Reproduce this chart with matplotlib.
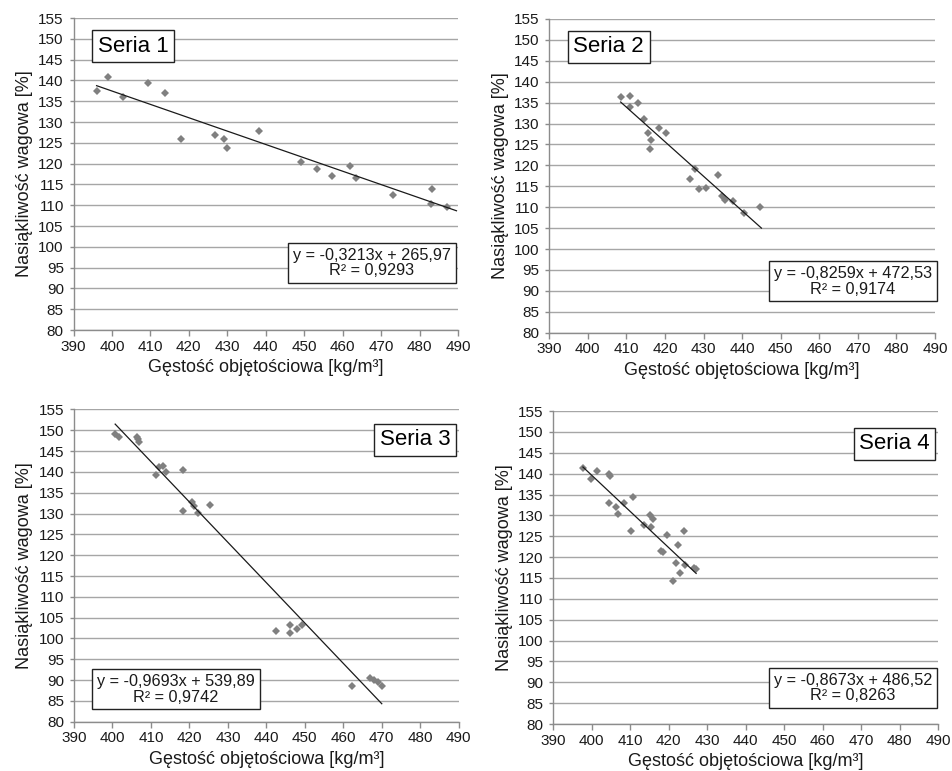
import matplotlib
matplotlib.use("Agg")
import matplotlib.pyplot as plt
import numpy as np

plt.rcParams['font.family'] = ['Liberation Sans', 'DejaVu Sans']

# Series data: bulk density [kg/m3] vs. water absorption by weight [%]
x1 = [396.0, 398.9, 402.9, 409.4, 413.7, 417.9, 426.8, 429.1, 430.0, 438.2,
      449.2, 453.3, 457.2, 462.0, 463.4, 473.1, 483.3, 483.0, 487.2]
y1 = [137.5, 140.8, 136.1, 139.4, 137.0, 126.0, 126.8, 126.0, 123.8, 127.9,
      120.3, 118.7, 116.9, 119.5, 116.6, 112.5, 113.9, 110.3, 109.6]

x2 = [408.5, 410.9, 410.9, 412.9, 414.6, 415.5, 418.4, 420.2, 416.4, 416.1,
      427.9, 426.6, 433.8, 428.8, 430.6, 434.7, 435.6, 437.7, 440.4, 444.7]
y2 = [136.3, 136.7, 133.9, 134.8, 131.0, 127.8, 128.9, 127.8, 126.0, 123.9,
      119.2, 116.7, 117.7, 114.3, 114.5, 112.6, 111.8, 111.5, 108.5, 110.0]

x3 = [400.7, 401.8, 406.3, 406.7, 407.0, 411.4, 412.2, 413.1, 413.9, 418.3,
      418.3, 420.7, 421.3, 422.2, 425.4, 442.5, 446.1, 446.1, 448.0, 449.2,
      462.3, 467.0, 468.0, 469.1, 470.0]
y3 = [149.2, 148.3, 148.5, 147.9, 147.3, 139.3, 141.1, 141.4, 140.1, 140.4,
      130.7, 132.8, 131.8, 130.1, 132.1, 101.7, 103.3, 101.4, 102.3, 103.3,
      88.6, 90.5, 90.0, 89.6, 88.5]

x4 = [397.7, 401.4, 399.8, 404.4, 404.8, 408.3, 410.6, 404.5, 406.2, 406.8,
      410.2, 413.5, 415.0, 415.9, 415.5, 419.6, 423.9, 422.5, 417.9, 418.6,
      422.0, 424.1, 422.8, 426.6, 427.1, 421.1]
y4 = [141.4, 140.7, 138.7, 139.9, 139.4, 133.0, 134.3, 133.0, 131.9, 130.3,
      126.3, 127.6, 130.1, 129.2, 127.3, 125.2, 126.3, 123.0, 121.5, 121.2,
      118.5, 118.2, 116.3, 117.5, 117.2, 114.2]

# Linear trend coefficients (slope, intercept), R^2 and fitted x-range
slopes = [-0.3213, -0.8259, -0.9693, -0.8673]
intercepts = [265.97, 472.53, 539.89, 486.52]
r2 = [0.9293, 0.9174, 0.9742, 0.8263]
trend_ranges = [[396.0, 489.6], [408.5, 445.0], [400.7, 470.0], [397.7, 427.1]]

names = ["Seria 1", "Seria 2", "Seria 3", "Seria 4"]
xs = [x1, x2, x3, x4]
ys = [y1, y2, y3, y4]

x_ticks = list(range(390, 491, 10))
y_ticks = list(range(80, 156, 5))

W, H = 953, 771
fig = plt.figure(figsize=(W / 100, H / 100), dpi=100)

# axes rectangles in pixel units: left, right, top(155), bottom(80)
rects = [(73.5, 458.0, 18.0, 330.0),
         (549.3, 935.0, 19.0, 332.7),
         (74.0, 458.7, 409.5, 721.7),
         (553.3, 938.3, 411.1, 724.0)]

title_pos = [(0.155, 0.909), (0.154, 0.912), (0.887, 0.903), (0.886, 0.895)]
eq_pos = [(0.776, 0.215), (0.787, 0.164), (0.265, 0.104), (0.778, 0.115)]

grid_c = '#a6a6a6'
spine_c = '#8c8c8c'
text_c = '#1a1a1a'

for i in range(4):
    l, r, t, b = rects[i]
    ax = fig.add_axes([l / W, 1 - b / H, (r - l) / W, (b - t) / H])
    ax.set_xlim(390, 490)
    ax.set_ylim(80, 155)
    ax.set_xticks(x_ticks)
    ax.set_yticks(y_ticks)
    ax.yaxis.grid(True, color=grid_c, linewidth=1.0)
    ax.set_axisbelow(True)
    for s in ['top', 'right']:
        ax.spines[s].set_visible(False)
    for s in ['left', 'bottom']:
        ax.spines[s].set_color(spine_c)
        ax.spines[s].set_linewidth(1.0)
    ax.tick_params(axis='x', direction='out', length=4, width=1, color=spine_c,
                   labelsize=11, labelcolor=text_c, pad=3)
    ax.tick_params(axis='y', direction='out', length=3, width=1, color=spine_c,
                   labelsize=11, labelcolor=text_c, pad=4)

    ax.plot(xs[i], ys[i], linestyle='none', marker='D', markersize=3.6,
            color='#808080', markeredgewidth=0, zorder=3)

    tx = np.array(trend_ranges[i])
    ax.plot(tx, slopes[i] * tx + intercepts[i], color='#1a1a1a', linewidth=0.9, zorder=4)

    eq = "y = {}x + {}\nR\u00b2 = {}".format(
        f"{slopes[i]:.4f}".replace('.', ','),
        f"{intercepts[i]:.2f}".replace('.', ','),
        f"{r2[i]:.4f}".replace('.', ','))
    ax.text(eq_pos[i][0], eq_pos[i][1], eq, transform=ax.transAxes,
            ha='center', va='center', multialignment='center', fontsize=11.7,
            color=text_c, linespacing=1.05, zorder=5,
            bbox=dict(boxstyle='square,pad=0.3', facecolor='white',
                      edgecolor='#222222', linewidth=1.0))

    ax.text(title_pos[i][0], title_pos[i][1], names[i], transform=ax.transAxes,
            ha='center', va='center', fontsize=16, color='black', zorder=5,
            bbox=dict(boxstyle='square,pad=0.25', facecolor='white',
                      edgecolor='#222222', linewidth=1.0))

    ax.set_xlabel("Gęstość objętościowa [kg/m³]", fontsize=13, color=text_c, labelpad=4)
    ax.set_ylabel("Nasiąkliwość wagowa [%]", fontsize=13, color=text_c, labelpad=4)

fig.savefig("out.png", dpi=100, facecolor='white')
